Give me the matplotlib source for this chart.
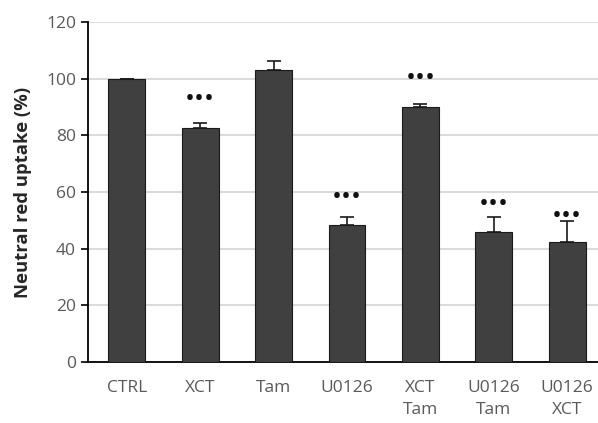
#!/usr/bin/env python3
"""Neutral red uptake bar chart with upper error bars."""

import matplotlib
matplotlib.use('Agg')
from matplotlib import pyplot as plt
import numpy as np


GROUPS = ['CTRL', 'XCT', 'Tam', 'U0126', 'XCT\nTam', 'U0126\nTam', 'U0126\nXCT']
UPTAKE = [100.0, 82.6, 103.2, 48.4, 90.0, 45.8, 42.2]
ERRORS = [0.0, 1.8, 2.9, 2.9, 1.1, 5.5, 7.7]
SIGNIF = ['', '***', '', '***', '***', '***', '***']
# offset of the marks above the error bar, in points
SIG_OFFSET = [0, 17, 0, 14, 18, 9, 3]


def main():
    plt.rcParams['font.family'] = ['Open Sans', 'DejaVu Sans']
    fig = plt.figure(figsize=(5.98, 4.23), dpi=100)
    ax = fig.add_axes([0.147, 0.144, 0.853, 0.804])

    x = np.arange(len(GROUPS))
    ax.bar(x, UPTAKE, width=0.5, color='#404040', edgecolor='#1a1a1a',
           linewidth=0.8, zorder=3)
    ax.errorbar(x, UPTAKE, yerr=[np.zeros(len(ERRORS)), ERRORS], fmt='none',
                ecolor='#1a1a1a', elinewidth=1.2, capsize=5, capthick=1.2,
                zorder=4)
    for xi, val, err, sig, off in zip(x, UPTAKE, ERRORS, SIGNIF, SIG_OFFSET):
        if sig:
            ax.annotate('\u2022\u2022\u2022', (xi, val + err),
                        xytext=(0, off), textcoords='offset points',
                        ha='center', va='center', fontsize=19,
                        color='#111111', zorder=5)

    ax.set_xlim(-0.53, 6.42)
    ax.set_ylim(0, 120)
    ax.set_yticks(range(0, 121, 20))
    ax.set_xticks(x)
    ax.set_xticklabels(GROUPS, color='#595959', fontsize=12.5,
                       linespacing=1.45, va='top')
    ax.tick_params(axis='y', colors='black', labelcolor='#595959',
                   labelsize=12.5, length=5, width=1.2, direction='out')
    ax.tick_params(axis='x', length=0, pad=13)
    ax.yaxis.grid(True, color='#d4d4d4', linewidth=1.2, zorder=0)
    ax.set_axisbelow(True)
    for side in ('top', 'right'):
        ax.spines[side].set_visible(False)
    ax.spines['left'].set_linewidth(1.3)
    ax.spines['bottom'].set_linewidth(1.3)
    ax.set_ylabel('Neutral red uptake (%)', fontsize=13.3,
                  fontweight='bold', color='#262626', labelpad=10)

    fig.savefig('out.png', dpi=100)


if __name__ == '__main__':
    main()
